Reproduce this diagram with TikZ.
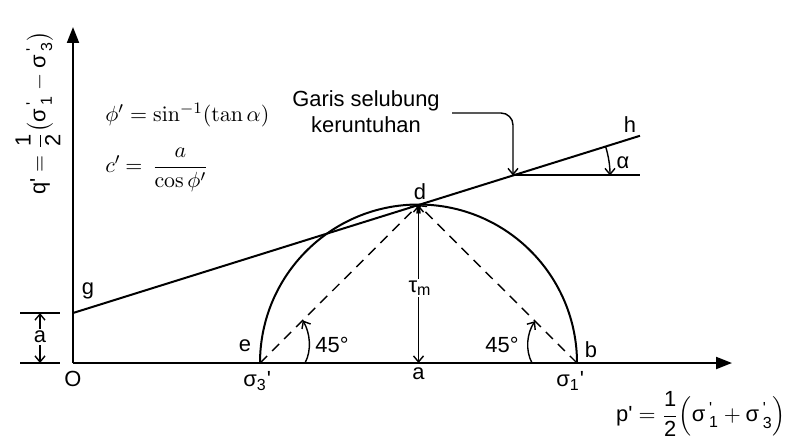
\documentclass[tikz,border=0pt]{standalone}
\usepackage{amsmath}
\usepackage[no-math]{fontspec}
\setmainfont{Liberation Sans}
\usetikzlibrary{arrows.meta,calc}
\newcommand\sgm[1]{\text{σ}\,{}^{\text{\textquotesingle}}_{\text{#1}}}
\begin{document}
\begin{tikzpicture}[x=0.5pt,y=-0.5pt,
  every node/.style={font=\fontsize{10.95}{13}\selectfont, inner sep=1pt},
  solidline/.style={line width=1pt},
  thinline/.style={line width=0.7pt},
  axisarrow/.style={line width=1pt,-{Triangle[length=8pt,width=6pt]}},
  dashline/.style={line width=0.7pt,dash pattern=on 5pt off 3.5pt},
  barb/.style={-{Straight Barb[length=3pt,width=5pt]}},
  barbs/.style={{Straight Barb[length=3pt,width=5pt]}-{Straight Barb[length=3pt,width=5pt]}}]
\useasboundingbox (0,0) rectangle (790,443);

\coordinate (O) at (73,363);
\coordinate (ytip) at (73,27);
\coordinate (xtip) at (732,363);
\coordinate (e) at (260,363);
\coordinate (b) at (577,363);
\coordinate (a) at (418.5,363);
\coordinate (d) at (418.5,205);
\coordinate (g) at (73,313);
\coordinate (h) at ($(g)!1.641!(d)$);
\coordinate (k) at ($(g)!1.2735!(d)$);
\coordinate (e45) at ($(e)!0.27!(d)$);
\coordinate (b45) at ($(b)!0.265!(d)$);
\coordinate (dimtop) at (40,313);
\coordinate (dimbot) at (40,363);
\coordinate (callout) at (452,113);

% axes
\draw[axisarrow] (O) -- (ytip);
\draw[axisarrow] (O) -- (xtip);
% envelope
\draw[solidline] (g) -- (h);
\draw[solidline] (k) -- (k -| h);
% Mohr semicircle
\draw[solidline] (b) arc[start angle=0,end angle=-180,radius=158.5];
% dashed 45 lines
\draw[dashline,barb] (e) -- (d);
\draw[dashline,barb] (b) -- (d);
% tau_m
\draw[thinline,barbs] (a) -- (d);
\node[fill=white] (taum) at (420,288) {τ\textsubscript{m}};
% 45 deg arcs
\draw[thinline,barb] (305,363) .. controls (312,350) and (310,333) .. (e45);
\draw[thinline,barb] (532,363) .. controls (525,350) and (527,333) .. (b45);
% alpha arc
\draw[thinline,barb] ($(k)+(-17.4:97)$) arc[start angle=-17.4,end angle=0,radius=97];
% callout arrow
\draw[thinline,barb,rounded corners=6pt] (callout) -| (k);
% dimension a
\draw[thinline] (20,313) -- (60,313);
\draw[thinline] (20,363) -- (60,363);
\draw[thinline,barbs] (dimtop) -- (dimbot);
\node[fill=white] (adim) at (40,337) {a};

% labels
\node (lO) at (73,379) {O};
\node (lg) at (88,291) {g};
\node (le) at (245,346) {e};
\node (lb) at (591,350) {b};
\node (ld) at (420,192) {d};
\node (la) at (418.5,374) {a};
\node[anchor=west] (ls3) at (241,381) {σ\textsubscript{3}\textquotesingle};
\node[anchor=west] (ls1) at (554,381) {σ\textsubscript{1}\textquotesingle};
\node (l45a) at (332,345) {45°};
\node (l45b) at (502,345) {45°};
\node (lh) at (630,125) {h};
\node (lalpha) at (623,163) {α};
\node[align=center] (garis) at (366,112) {Garis selubung\\keruntuhan};

% formulas
\node[anchor=west] (f1) at (103,115) {$\phi' = \sin^{-1}\!\left(\tan\alpha\right)$};
\node[anchor=west] (f2) at (103,170) {$c'\mkern-1mu=\mkern3mu\dfrac{a}{\cos\phi'}$};

% axis labels
\node[rotate=90] (qlab) at (38,113) {$\text{q\textquotesingle} = \dfrac{\text{1}}{\text{2}}\bigl(\sgm{1}-\sgm{3}\bigr)$};
\node (plab) at (701,414) {$\text{p\textquotesingle} = \dfrac{\text{1}}{\text{2}}\Bigl(\sgm{1}+\sgm{3}\Bigr)$};
\end{tikzpicture}
\end{document}
